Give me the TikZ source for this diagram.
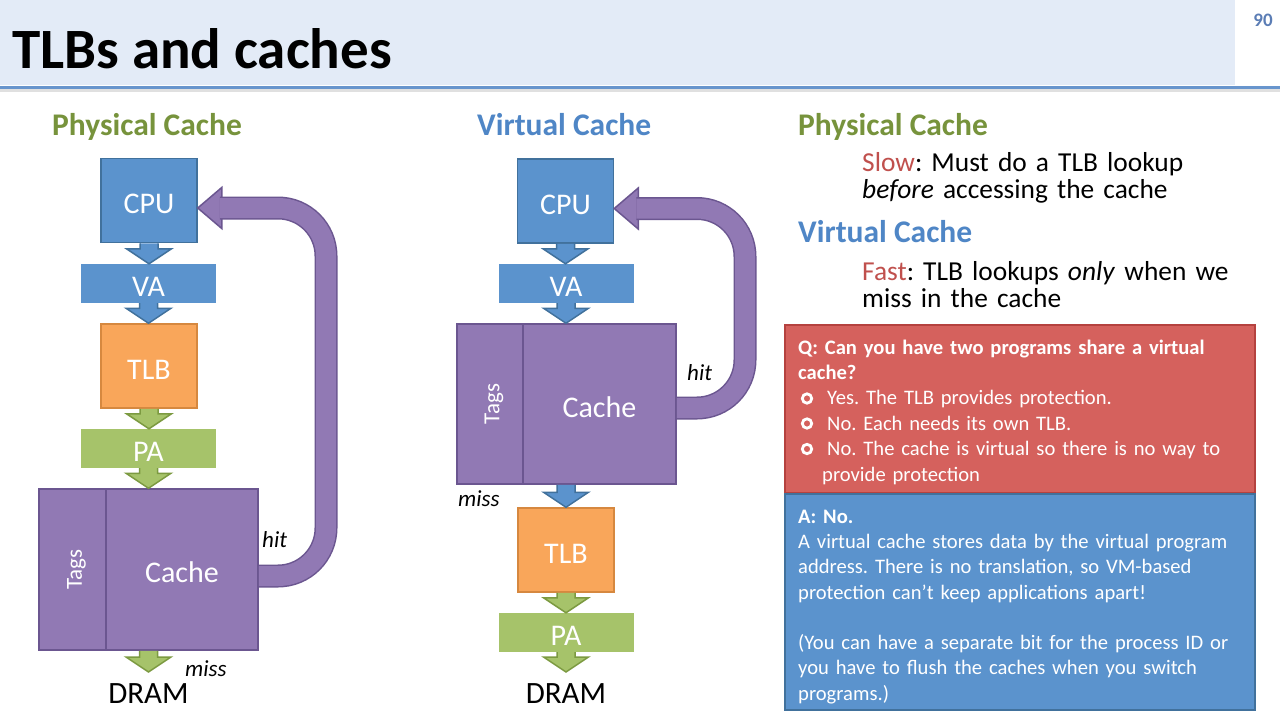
\documentclass[tikz,border=0pt]{standalone}
\usepackage{fontspec}
\setmainfont{Carlito}
\usetikzlibrary{calc}
\frenchspacing
\begin{document}
\begin{tikzpicture}[x=1pt, y=-1pt,
    box/.style={draw=#1line, fill=#1fill, line width=1.5pt, minimum width=96pt, minimum height=84pt, inner sep=0pt, text=white, text height=30pt, text depth=3.6pt, font=\fontsize{30}{30}\selectfont},
    bar/.style={fill=#1fill, minimum width=135pt, minimum height=39pt, inner sep=0pt, text=white, text height=30pt, text depth=3.6pt, font=\fontsize{30}{30}\selectfont},
    tagtext/.style={rotate=90, inner sep=0pt, text=white, font=\fontsize{23}{23}\selectfont},
    note/.style={anchor=base west, inner sep=0pt, font=\fontsize{23}{23}\itshape},
    dram/.style={anchor=north, inner sep=0pt, text height=31pt, text depth=0pt, font=\fontsize{31}{31}\selectfont},
    heading/.style={anchor=base west, inner sep=0pt, font=\fontsize{31.5}{31.5}\bfseries},
    body/.style={anchor=base west, inner sep=0pt, text width=400pt, align=left, font=\fontsize{27.4}{27}\selectfont},
    qa/.style={anchor=base west, inner sep=0pt, text width=455pt, align=left, text=white, font=\fontsize{20.6}{25.4}\selectfont},
    hitband/.style={draw=purpleline, double=purplefill, double distance=20pt, line width=1.5pt, rounded corners=48pt},
    hithead/.style={draw=purpleline, fill=purplefill, line width=1.5pt, line join=miter}]
    \definecolor{bluefill}{HTML}{5B93CD}
    \definecolor{blueline}{HTML}{41719C}
    \definecolor{orangefill}{HTML}{F9A65A}
    \definecolor{orangeline}{HTML}{D6883F}
    \definecolor{greenfill}{HTML}{A6C36A}
    \definecolor{greenline}{HTML}{7C9A41}
    \definecolor{purplefill}{HTML}{9179B4}
    \definecolor{purpleline}{HTML}{6B5690}
    \definecolor{redfill}{HTML}{D5615D}
    \definecolor{redline}{HTML}{B5423F}
    \definecolor{headgreen}{HTML}{77933C}
    \definecolor{headblue}{HTML}{4F86C6}
    \definecolor{slowred}{HTML}{C0504D}
    \definecolor{headfill}{HTML}{E3EBF7}
    \definecolor{headline}{HTML}{6895CD}
    \definecolor{pagenum}{HTML}{5B7DB5}
    \def\blockarrow#1#2#3{\path[draw=#3line, fill=#3fill, line width=1.5pt, line join=miter] let \p1=(#1), \p2=(#2) in
      (\x1-9pt,\y1) -- (\x1-9pt,\y2+15pt) -- (\x1-22.5pt,\y2+15pt) -- (\x1,\y2) -- (\x1+22.5pt,\y2+15pt) -- (\x1+9pt,\y2+15pt) -- (\x1+9pt,\y1);}
    \useasboundingbox (0,0) rectangle (1280,720);
    \fill[white] (0,0) rectangle (1280,720);
    \fill[headfill] (0,0) rectangle (1235,85);
    \fill[black!12] (0,88) rectangle (1280,92);
    \draw[headline, line width=3pt] (0,87) -- (1280,87);
    \node[anchor=base west, inner sep=0pt, font=\fontsize{57}{57}\bfseries] (title) at (12,68) {TLBs and caches};
    \node[anchor=base, inner sep=0pt, text=pagenum, font=\fontsize{19}{19}\bfseries] (page) at (1263,27) {90};

    \node[heading, text=headgreen] (ptitle) at (52,135) {Physical Cache};
    \node[box=blue] (pcpu) at (149,200.5) {CPU};
    \node[bar=blue] (pva) at (148.5,283.5) {VA};
    \node[box=orange] (ptlb) at (149,366) {TLB};
    \node[bar=green] (ppa) at (148.5,448.5) {PA};
    \node[box=purple, minimum width=161pt, minimum height=67pt, rotate=90] (ptags) at (72.5,569.5) {};
    \node[tagtext] at ([xshift=4pt]ptags.center) {Tags};
    \node[box=purple, minimum width=152pt, minimum height=161pt] (pcache) at (182,569.5) {Cache};
    \node[dram] (pdram) at (148.5,672) {DRAM};
    \blockarrow{pcpu.south}{pva.north}{blue}
    \blockarrow{pva.south}{ptlb.north}{blue}
    \blockarrow{ptlb.south}{ppa.north}{green}
    \blockarrow{ppa.south}{pcache.north}{green}
    \blockarrow{pcache.south -| ppa.south}{pdram.north}{green}
    \coordinate (phit) at ([yshift=-7.5pt]pcpu.east);
    \draw[hithead] (phit) -- ++(24,-20.5) -- ++(0,41) -- cycle;
    \draw[hitband] ([yshift=-6.5pt]pcache.east) -| (326,208) -- ([xshift=22pt]phit);
    \node[note] at (262,547) {hit};
    \node[note] at (185,676) {miss};

    \node[heading, text=headblue] (vtitle) at (477,135) {Virtual Cache};
    \node[box=blue] (vcpu) at (565.5,201) {CPU};
    \node[bar=blue] (vva) at (566,283.5) {VA};
    \node[box=purple, minimum width=160pt, minimum height=66pt, rotate=90] (vtags) at (490,404) {};
    \node[tagtext] at ([xshift=4pt]vtags.center) {Tags};
    \node[box=purple, minimum width=153pt, minimum height=160pt] (vcache) at (599.5,404) {Cache};
    \node[box=orange] (vtlb) at (566,550) {TLB};
    \node[bar=green] (vpa) at (566,632.5) {PA};
    \node[dram] (vdram) at (566,672) {DRAM};
    \blockarrow{vcpu.south}{vva.north}{blue}
    \blockarrow{vva.south}{vcache.north}{blue}
    \blockarrow{vcache.south -| vva.south}{vtlb.north}{blue}
    \blockarrow{vtlb.south}{vpa.north}{green}
    \blockarrow{vpa.south}{vdram.north}{green}
    \coordinate (vhit) at ([yshift=-7.5pt]vcpu.east);
    \draw[hithead] (vhit) -- ++(24,-20.5) -- ++(0,41) -- cycle;
    \draw[hitband] ([yshift=-4pt]vcache.east) -| (745,208.5) -- ([xshift=22pt]vhit);
    \node[note] at (687,380) {hit};
    \node[note] at (458,506) {miss};

    \node[heading, text=headgreen] (rphys) at (798,135) {Physical Cache};
    \node[body] (rslow) at (862,171) {\textcolor{slowred}{Slow}: Must do a TLB lookup\\\textit{before} accessing the cache};
    \node[heading, text=headblue] (rvirt) at (798,242) {Virtual Cache};
    \node[body] (rfast) at (862,280) {\textcolor{slowred}{Fast}: TLB lookups \textit{only} when we\\miss in the cache};

    \node[draw=redline, fill=redfill, line width=1.5pt, minimum width=470pt, minimum height=168pt] (qbox) at (1020,409) {};
    \node[draw=blueline, fill=bluefill, line width=1.5pt, minimum width=470pt, minimum height=216pt] (abox) at (1020,602) {};
    \node[qa] (qtext) at (798,354) {\textbf{Q: Can you have two programs share a virtual}\\
      \textbf{cache?}\\
      \hspace*{29pt}Yes. The TLB provides protection.\\
      \hspace*{29pt}No. Each needs its own TLB.\\
      \hspace*{29pt}No. The cache is virtual so there is no way to\\
      \hspace*{24pt}provide protection};
    \foreach \y in {398.5,423.5,449} \draw[white, line width=2.8pt] (807,\y) circle (4.7pt);
    \node[qa] (atext) at (798,523) {\textbf{A: No.}\\
      A virtual cache stores data by the virtual program\\
      address. There is no translation, so VM-based\\
      protection can’t keep applications apart!\\[24.8pt]
      (You can have a separate bit for the process ID or\\
      you have to flush the caches when you switch\\
      programs.)};
\end{tikzpicture}
\end{document}
